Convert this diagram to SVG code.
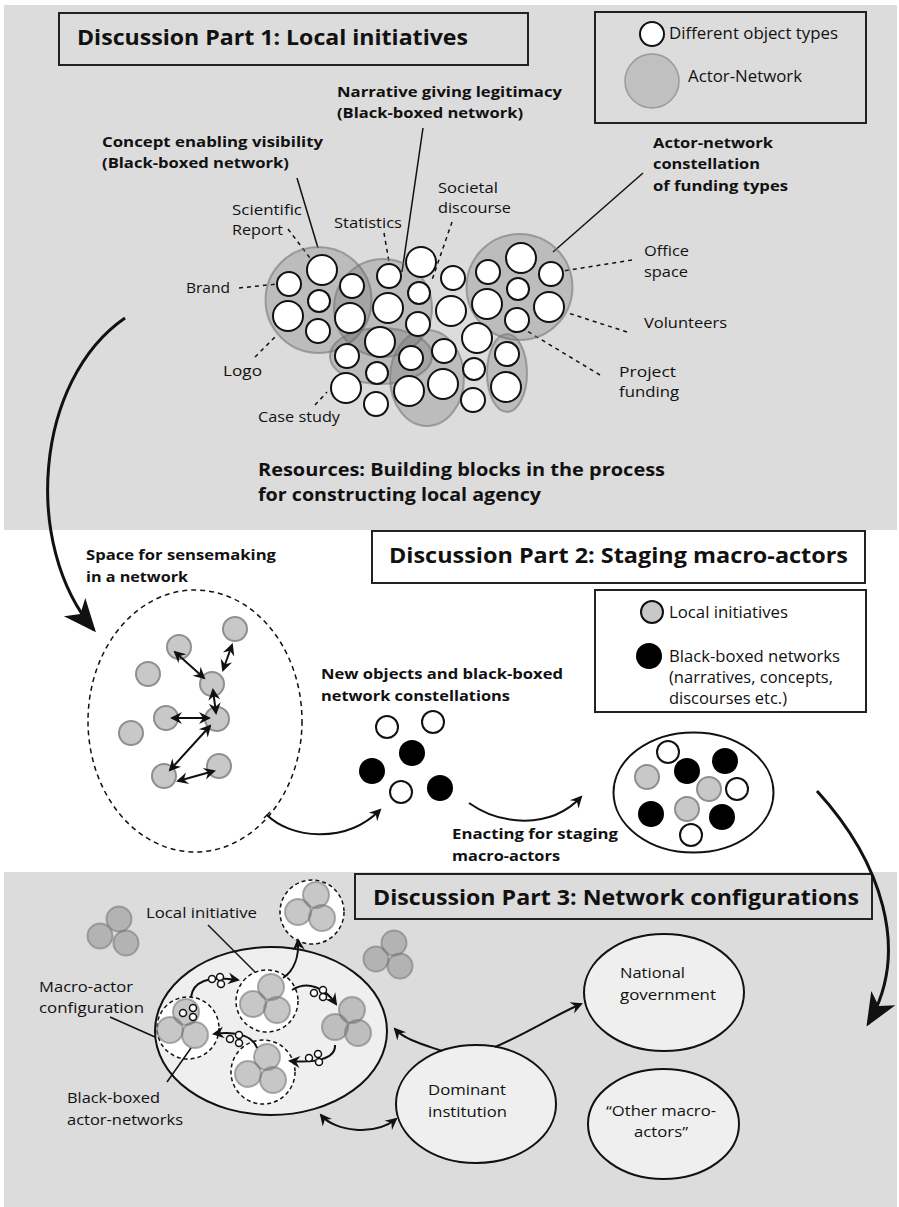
<svg xmlns="http://www.w3.org/2000/svg" width="899" height="1207" viewBox="0 0 899 1207">
<defs>
<style>
.t{font-family:"Open Sans","Liberation Sans",sans-serif;fill:#111}
.title{font-size:22px;font-weight:bold}
.lb{font-size:15px;font-weight:bold}
.ln{font-size:15px}
.obj{fill:#fff;stroke:#111;stroke-width:2}
.an{fill:#5a5a5a;fill-opacity:0.25;stroke:#777;stroke-opacity:0.6;stroke-width:2}
.loc{fill:#c8c8c8;stroke:#8f8f8f;stroke-width:2}
.blk{fill:#000}
.tri{fill:#7a7a7a;fill-opacity:0.42;stroke:#7a7a7a;stroke-opacity:0.6;stroke-width:2}
.dash{fill:none;stroke:#111;stroke-width:1.5;stroke-dasharray:4 4}
.dsh{fill:#fff;stroke:#111;stroke-width:1.5;stroke-dasharray:4 3}
.lead{fill:none;stroke:#111;stroke-width:1.5}
.arr{fill:none;stroke:#111;stroke-width:2}
.big{fill:none;stroke:#111;stroke-width:3}
.box{stroke:#222;stroke-width:2}
.ell{fill:#efefef;stroke:#111;stroke-width:2}
.tiny{fill:#fff;stroke:#111;stroke-width:1.5}
</style>
<marker id="bh" markerUnits="userSpaceOnUse" viewBox="-36 -16 40 32" markerWidth="40" markerHeight="32" refX="-3" refY="0" orient="auto"><path d="M0,0 L-33,-14 L-24,0 L-33,14 Z" fill="#111"/></marker>
<marker id="sh" markerUnits="userSpaceOnUse" viewBox="-14 -7 16 14" markerWidth="16" markerHeight="14" refX="-2" refY="0" orient="auto-start-reverse"><path d="M0,0 L-12,-6 L-8,0 L-12,6 Z" fill="#111"/></marker>
</defs>

<!-- backgrounds -->
<rect x="4" y="5" width="893" height="525" fill="#dcdcdc"/>
<rect x="4" y="872" width="893" height="335" fill="#dcdcdc"/>

<!-- ===== Part 1 ===== -->
<g id="title1">
<rect class="box" x="59" y="13" width="469" height="52" fill="#dcdcdc"/>
<text class="t title" x="77" y="45" textLength="391" lengthAdjust="spacingAndGlyphs">Discussion Part 1: Local initiatives</text>
</g>
<g id="legend1">
<rect class="box" x="595" y="12" width="271" height="111" fill="#dcdcdc"/>
<circle class="obj" cx="652" cy="34" r="12"/>
<text class="t" font-size="16" x="669" y="39" textLength="169" lengthAdjust="spacingAndGlyphs">Different object types</text>
<circle cx="652" cy="81" r="27" fill="#c0c0c0" stroke="#999" stroke-width="1.5"/>
<text class="t" font-size="16" x="688" y="82" textLength="114" lengthAdjust="spacingAndGlyphs">Actor-Network</text>
</g>

<g id="connectors1">
<line class="lead" x1="297" y1="178" x2="318" y2="248"/>
<line class="lead" x1="423" y1="128" x2="402" y2="272"/>
<line class="lead" x1="643" y1="173" x2="553" y2="252"/>
<line class="dash" x1="288" y1="229" x2="313" y2="262"/>
<polyline class="dash" points="239,288 268,285 277,284"/>
<line class="dash" x1="255" y1="357" x2="277" y2="335"/>
<line class="dash" x1="315" y1="405" x2="327" y2="392"/>
<line class="dash" x1="384" y1="233" x2="389" y2="262"/>
<line class="dash" x1="452" y1="222" x2="432" y2="280"/>
<line class="dash" x1="632" y1="260" x2="563" y2="271"/>
<line class="dash" x1="627" y1="332" x2="568" y2="313"/>
<line class="dash" x1="600" y1="375" x2="522" y2="328"/>
</g>

<g id="cluster">
<circle class="an" cx="318.5" cy="300" r="53"/>
<circle class="an" cx="383" cy="308" r="49"/>
<ellipse class="an" cx="381" cy="356" rx="51" ry="28"/>
<ellipse class="an" cx="427" cy="378" rx="37" ry="48"/>
<circle class="an" cx="519.5" cy="287" r="53"/>
<ellipse class="an" cx="507" cy="373" rx="20" ry="39"/>
<circle class="obj" cx="322" cy="270" r="15"/>
<circle class="obj" cx="289" cy="284" r="12"/>
<circle class="obj" cx="319" cy="301" r="11"/>
<circle class="obj" cx="352" cy="286" r="12"/>
<circle class="obj" cx="288" cy="316" r="15"/>
<circle class="obj" cx="350" cy="318" r="15"/>
<circle class="obj" cx="318" cy="331" r="12"/>
<circle class="obj" cx="389" cy="276" r="12"/>
<circle class="obj" cx="421" cy="262" r="15"/>
<circle class="obj" cx="388" cy="308" r="15"/>
<circle class="obj" cx="419" cy="293" r="11"/>
<circle class="obj" cx="418" cy="324" r="12"/>
<circle class="obj" cx="453" cy="278" r="12"/>
<circle class="obj" cx="451" cy="311" r="15"/>
<circle class="obj" cx="380" cy="342" r="15"/>
<circle class="obj" cx="347" cy="356" r="12"/>
<circle class="obj" cx="377" cy="373" r="11"/>
<circle class="obj" cx="411" cy="358" r="12"/>
<circle class="obj" cx="444" cy="351" r="12"/>
<circle class="obj" cx="443" cy="384" r="15"/>
<circle class="obj" cx="409" cy="391" r="15"/>
<circle class="obj" cx="346" cy="388" r="15"/>
<circle class="obj" cx="376" cy="404" r="12"/>
<circle class="obj" cx="477" cy="338" r="15"/>
<circle class="obj" cx="474" cy="369" r="11"/>
<circle class="obj" cx="473" cy="400" r="12"/>
<circle class="obj" cx="521" cy="258" r="15"/>
<circle class="obj" cx="488" cy="272" r="12"/>
<circle class="obj" cx="551" cy="274" r="12"/>
<circle class="obj" cx="518" cy="289" r="11"/>
<circle class="obj" cx="487" cy="304" r="15"/>
<circle class="obj" cx="549" cy="307" r="15"/>
<circle class="obj" cx="517" cy="320" r="12"/>
<circle class="obj" cx="507" cy="354" r="12"/>
<circle class="obj" cx="506" cy="387" r="15"/>
</g>

<g id="labels1">
<text class="t lb" x="337" y="97" textLength="225" lengthAdjust="spacingAndGlyphs">Narrative giving legitimacy</text>
<text class="t lb" x="337" y="118" textLength="186" lengthAdjust="spacingAndGlyphs">(Black-boxed network)</text>
<text class="t lb" x="102" y="147" textLength="221" lengthAdjust="spacingAndGlyphs">Concept enabling visibility</text>
<text class="t lb" x="102" y="168" textLength="187" lengthAdjust="spacingAndGlyphs">(Black-boxed network)</text>
<text class="t lb" x="653" y="148" textLength="120" lengthAdjust="spacingAndGlyphs">Actor-network</text>
<text class="t lb" x="653" y="169" textLength="107" lengthAdjust="spacingAndGlyphs">constellation</text>
<text class="t lb" x="653" y="191" textLength="135" lengthAdjust="spacingAndGlyphs">of funding types</text>
<text class="t ln" x="232" y="215" textLength="70" lengthAdjust="spacingAndGlyphs">Scientific</text>
<text class="t ln" x="232" y="235" textLength="51" lengthAdjust="spacingAndGlyphs">Report</text>
<text class="t ln" x="334" y="228" textLength="68" lengthAdjust="spacingAndGlyphs">Statistics</text>
<text class="t ln" x="438" y="193" textLength="60" lengthAdjust="spacingAndGlyphs">Societal</text>
<text class="t ln" x="438" y="213" textLength="73" lengthAdjust="spacingAndGlyphs">discourse</text>
<text class="t ln" x="186" y="293" textLength="44" lengthAdjust="spacingAndGlyphs">Brand</text>
<text class="t ln" x="223" y="376" textLength="39" lengthAdjust="spacingAndGlyphs">Logo</text>
<text class="t ln" x="258" y="422" textLength="82" lengthAdjust="spacingAndGlyphs">Case study</text>
<text class="t ln" x="644" y="256" textLength="45" lengthAdjust="spacingAndGlyphs">Office</text>
<text class="t ln" x="644" y="277" textLength="44" lengthAdjust="spacingAndGlyphs">space</text>
<text class="t ln" x="644" y="328" textLength="83" lengthAdjust="spacingAndGlyphs">Volunteers</text>
<text class="t ln" x="619" y="377" textLength="57" lengthAdjust="spacingAndGlyphs">Project</text>
<text class="t ln" x="619" y="397" textLength="60" lengthAdjust="spacingAndGlyphs">funding</text>
<text class="t" font-size="17" font-weight="bold" x="258" y="476" textLength="407" lengthAdjust="spacingAndGlyphs">Resources: Building blocks in the process</text>
<text class="t" font-size="17" font-weight="bold" x="258" y="501" textLength="283" lengthAdjust="spacingAndGlyphs">for constructing local agency</text>
</g>

<!-- ===== Part 2 ===== -->
<g id="title2">
<rect class="box" x="372" y="531" width="493" height="52" fill="#fff"/>
<text class="t title" x="389" y="563" textLength="459" lengthAdjust="spacingAndGlyphs">Discussion Part 2: Staging macro-actors</text>
</g>
<g id="legend2">
<rect class="box" x="595" y="590" width="271" height="122" fill="#fff"/>
<circle cx="652" cy="612" r="11" fill="#c8c8c8" stroke="#111" stroke-width="2"/>
<text class="t" font-size="16" x="669" y="618" textLength="119" lengthAdjust="spacingAndGlyphs">Local initiatives</text>
<circle class="blk" cx="649" cy="656" r="13"/>
<text class="t" font-size="16" x="669" y="662" textLength="171" lengthAdjust="spacingAndGlyphs">Black-boxed networks</text>
<text class="t" font-size="16" x="669" y="683" textLength="164" lengthAdjust="spacingAndGlyphs">(narratives, concepts,</text>
<text class="t" font-size="16" x="669" y="704" textLength="118" lengthAdjust="spacingAndGlyphs">discourses etc.)</text>
</g>

<g id="sensemaking">
<ellipse cx="195" cy="721" rx="107" ry="131" fill="none" stroke="#111" stroke-width="1.5" stroke-dasharray="5 4"/>
<text class="t lb" x="86" y="560" textLength="190" lengthAdjust="spacingAndGlyphs">Space for sensemaking</text>
<text class="t lb" x="86" y="582" textLength="102" lengthAdjust="spacingAndGlyphs">in a network</text>
<circle class="loc" cx="235" cy="629" r="12"/>
<circle class="loc" cx="179" cy="647" r="12"/>
<circle class="loc" cx="148" cy="674" r="12"/>
<circle class="loc" cx="212" cy="684" r="12"/>
<circle class="loc" cx="166" cy="718" r="12"/>
<circle class="loc" cx="217" cy="719" r="12"/>
<circle class="loc" cx="131" cy="733" r="12"/>
<circle class="loc" cx="164" cy="776" r="12"/>
<circle class="loc" cx="219" cy="766" r="12"/>
</g>

<g id="newobjects">
<text class="t lb" x="321" y="679" textLength="242" lengthAdjust="spacingAndGlyphs">New objects and black-boxed</text>
<text class="t lb" x="321" y="701" textLength="189" lengthAdjust="spacingAndGlyphs">network constellations</text>
<circle class="obj" cx="387" cy="727" r="11"/>
<circle class="obj" cx="433" cy="722" r="11"/>
<circle class="blk" cx="412" cy="753" r="13"/>
<circle class="blk" cx="372" cy="771" r="13"/>
<circle class="obj" cx="401" cy="792" r="11"/>
<circle class="blk" cx="440" cy="788" r="13"/>
</g>

<g id="staging">
<ellipse cx="693.5" cy="792.5" rx="80" ry="60" fill="#fff" stroke="#111" stroke-width="2"/>
<circle class="obj" cx="668" cy="752" r="11"/>
<circle class="blk" cx="725" cy="761" r="13"/>
<circle class="blk" cx="687" cy="771" r="13"/>
<circle class="loc" cx="647" cy="777" r="12"/>
<circle class="loc" cx="709" cy="789" r="12"/>
<circle class="obj" cx="737" cy="789" r="11"/>
<circle class="blk" cx="651" cy="814" r="13"/>
<circle class="loc" cx="687" cy="809" r="12"/>
<circle class="blk" cx="722" cy="817" r="13"/>
<circle class="obj" cx="691" cy="835" r="11"/>
</g>
<g id="enacting-label">
<text class="t lb" x="452" y="839" textLength="166" lengthAdjust="spacingAndGlyphs">Enacting for staging</text>
<text class="t lb" x="452" y="861" textLength="108" lengthAdjust="spacingAndGlyphs">macro-actors</text>
</g>

<!-- ===== Part 3 ===== -->
<g id="title3">
<rect class="box" x="355" y="874" width="517" height="45" fill="#dcdcdc"/>
<text class="t title" x="373" y="905" textLength="486" lengthAdjust="spacingAndGlyphs">Discussion Part 3: Network configurations</text>
</g>

<g id="loose-triads">
<circle class="tri" cx="119" cy="919" r="12.5"/>
<circle class="tri" cx="100" cy="936" r="12.5"/>
<circle class="tri" cx="126" cy="943" r="12.5"/>
<circle class="tri" cx="394" cy="943" r="12.5"/>
<circle class="tri" cx="376" cy="959" r="12.5"/>
<circle class="tri" cx="400" cy="966" r="12.5"/>
</g>

<g id="macro-config">
<ellipse class="ell" cx="271" cy="1031" rx="116" ry="84"/>
</g>
<g id="li-top">
<circle class="dsh" cx="312" cy="912" r="32"/>
<circle class="tri" cx="316" cy="895" r="13"/>
<circle class="tri" cx="298" cy="912" r="13"/>
<circle class="tri" cx="322" cy="918" r="13"/>
</g>
<g id="li-center">
<circle class="dsh" cx="267" cy="1001" r="31"/>
<circle class="tri" cx="271" cy="987" r="13"/>
<circle class="tri" cx="253" cy="1004" r="13"/>
<circle class="tri" cx="277" cy="1010" r="13"/>
</g>
<g id="li-bottom">
<circle class="dsh" cx="263" cy="1072" r="32"/>
<circle class="tri" cx="267" cy="1057" r="13"/>
<circle class="tri" cx="248" cy="1074" r="13"/>
<circle class="tri" cx="273" cy="1080" r="13"/>
</g>
<g id="li-left">
<circle class="dsh" cx="188" cy="1028" r="31"/>
<circle class="tri" cx="186" cy="1012" r="13"/>
<circle class="tri" cx="170" cy="1030" r="13"/>
<circle class="tri" cx="195" cy="1035" r="13"/>
<circle class="tiny" cx="183" cy="1013" r="3.5"/>
<circle class="tiny" cx="193" cy="1008" r="3.5"/>
<circle class="tiny" cx="193" cy="1017" r="3.5"/>
</g>
<g id="li-right">
<circle class="tri" cx="352" cy="1010" r="13"/>
<circle class="tri" cx="335" cy="1027" r="13"/>
<circle class="tri" cx="358" cy="1033" r="13"/>
</g>

<g id="dominant">
<ellipse class="ell" cx="476" cy="1104" rx="80" ry="59"/>
<text class="t ln" x="428" y="1095" textLength="78" lengthAdjust="spacingAndGlyphs">Dominant</text>
<text class="t ln" x="428" y="1117" textLength="79" lengthAdjust="spacingAndGlyphs">institution</text>
</g>
<g id="national">
<ellipse class="ell" cx="664" cy="992.5" rx="80" ry="58.5"/>
<text class="t ln" x="620" y="978" textLength="65" lengthAdjust="spacingAndGlyphs">National</text>
<text class="t ln" x="620" y="1000" textLength="96" lengthAdjust="spacingAndGlyphs">government</text>
</g>
<g id="other">
<ellipse class="ell" cx="663.5" cy="1124" rx="75.5" ry="55"/>
<text class="t ln" x="606" y="1116" textLength="110" lengthAdjust="spacingAndGlyphs">“Other macro-</text>
<text class="t ln" x="634" y="1137" textLength="54" lengthAdjust="spacingAndGlyphs">actors”</text>
</g>

<g id="labels3">
<text class="t ln" x="146" y="918" textLength="111" lengthAdjust="spacingAndGlyphs">Local initiative</text>
<text class="t ln" x="39" y="992" textLength="94" lengthAdjust="spacingAndGlyphs">Macro-actor</text>
<text class="t ln" x="39" y="1013" textLength="105" lengthAdjust="spacingAndGlyphs">configuration</text>
<text class="t ln" x="67" y="1103" textLength="93" lengthAdjust="spacingAndGlyphs">Black-boxed</text>
<text class="t ln" x="67" y="1125" textLength="116" lengthAdjust="spacingAndGlyphs">actor-networks</text>
</g>

<g id="connectors">
<!-- big arrows -->
<path class="big" d="M125,318 C35,380 22,545 94,630" marker-end="url(#bh)"/>
<path class="big" d="M817,791 C880,860 912,950 868,1024" marker-end="url(#bh)"/>
<!-- part 2 -->
<line class="arr" x1="175" y1="652" x2="204" y2="678" marker-start="url(#sh)" marker-end="url(#sh)"/>
<line class="arr" x1="232" y1="645" x2="223" y2="670" marker-start="url(#sh)" marker-end="url(#sh)"/>
<line class="arr" x1="213" y1="690" x2="216" y2="713" marker-start="url(#sh)" marker-end="url(#sh)"/>
<line class="arr" x1="172" y1="718" x2="209" y2="718" marker-start="url(#sh)" marker-end="url(#sh)"/>
<line class="arr" x1="210" y1="726" x2="170" y2="770" marker-start="url(#sh)" marker-end="url(#sh)"/>
<line class="arr" x1="178" y1="781" x2="214" y2="771" marker-start="url(#sh)" marker-end="url(#sh)"/>
<line class="lead" x1="264" y1="818" x2="270" y2="812"/>
<path class="arr" d="M267,815 C290,838 345,845 380,810" marker-end="url(#sh)"/>
<path class="arr" d="M469,803 C500,825 550,830 581,797" marker-end="url(#sh)"/>
<!-- part 3 leaders -->
<line class="lead" x1="208" y1="925" x2="255" y2="972"/>
<line class="lead" x1="110" y1="1017" x2="155" y2="1037"/>
<line class="lead" x1="167" y1="1082" x2="191" y2="1048"/>
<!-- part 3 arrows -->
<path class="arr" d="M191,997 C193,982 208,975 238,980" marker-end="url(#sh)"/>
<path class="arr" d="M292,990 C308,980 325,988 336,1004" marker-end="url(#sh)"/>
<path class="arr" d="M335,1045 C336,1060 312,1063 290,1061" marker-end="url(#sh)"/>
<path class="arr" d="M257,1048 C252,1034 232,1031 214,1034" marker-end="url(#sh)"/>
<path class="arr" d="M283,978 C295,970 299,955 298,940" marker-end="url(#sh)"/>
<path class="arr" d="M442,1051 C425,1045 405,1040 395,1029" marker-end="url(#sh)"/>
<path class="arr" d="M495,1047 C530,1032 555,1015 581,1004" marker-end="url(#sh)"/>
<path class="arr" d="M321,1115 C335,1132 375,1136 396,1119" marker-start="url(#sh)" marker-end="url(#sh)"/>
<!-- objects travelling along arrows -->
<circle class="tiny" cx="212" cy="979" r="3.5"/>
<circle class="tiny" cx="220" cy="977" r="3.5"/>
<circle class="tiny" cx="221" cy="984" r="3.5"/>
<circle class="tiny" cx="314" cy="993" r="3.5"/>
<circle class="tiny" cx="323" cy="990" r="3.5"/>
<circle class="tiny" cx="323" cy="997" r="3.5"/>
<circle class="tiny" cx="309" cy="1058" r="3.5"/>
<circle class="tiny" cx="318" cy="1054" r="3.5"/>
<circle class="tiny" cx="319" cy="1062" r="3.5"/>
<circle class="tiny" cx="230" cy="1039" r="3.5"/>
<circle class="tiny" cx="239" cy="1035" r="3.5"/>
<circle class="tiny" cx="239" cy="1043" r="3.5"/>
</g>
</svg>
